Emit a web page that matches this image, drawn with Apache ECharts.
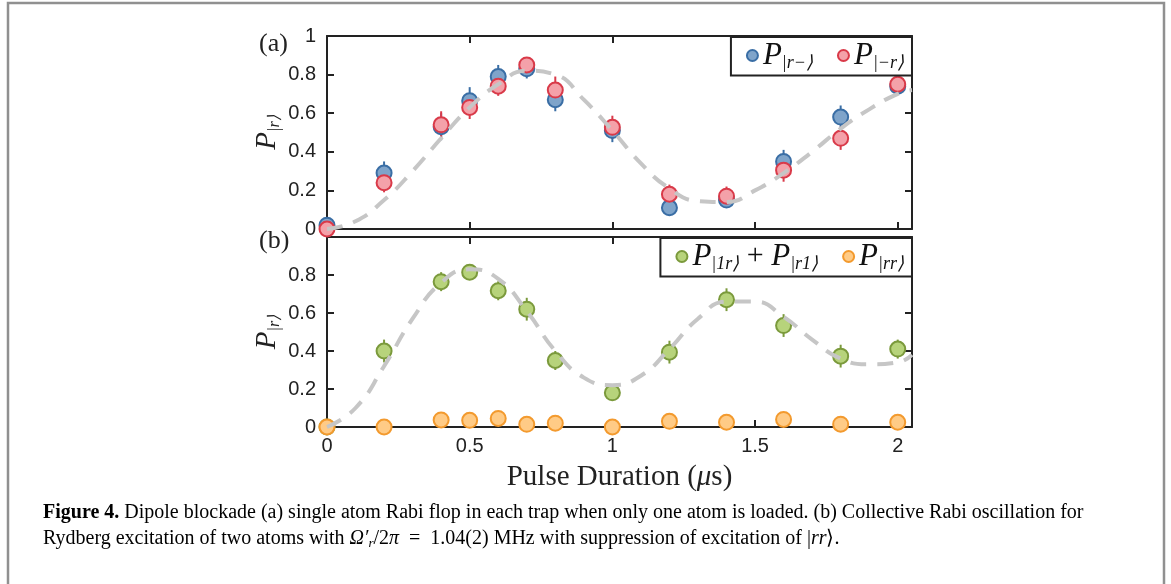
<!DOCTYPE html>
<html>
<head>
<meta charset="utf-8">
<script src="https://cdn.jsdelivr.net/npm/echarts@6/dist/echarts.min.js"></script>
<style>
  html, body { margin: 0; padding: 0; background: #fff; }
  #chart { width: 1171px; height: 584px; }
</style>
</head>
<body>
<div id="chart"></div>
<script>
// pulse durations (us)
var xVals = [0, 0.2, 0.4, 0.5, 0.6, 0.7, 0.8, 1.0, 1.2, 1.4, 1.6, 1.8, 2.0];

// (a) single atom
var blueVals = [0.02, 0.29, 0.53, 0.665, 0.79, 0.83, 0.67, 0.51, 0.11, 0.15, 0.35, 0.58, 0.74];
var blueErr = [0.02, 0.06, 0.07, 0.07, 0.06, 0.05, 0.06, 0.06, 0.04, 0.04, 0.06, 0.06, 0.04];
var redVals = [0.0, 0.24, 0.54, 0.63, 0.74, 0.85, 0.72, 0.527, 0.18, 0.17, 0.305, 0.47, 0.75];
var redErr = [0.02, 0.05, 0.07, 0.06, 0.05, 0.04, 0.07, 0.06, 0.05, 0.05, 0.06, 0.06, 0.04];

// (b) two atoms
var greenVals = [0.0, 0.40, 0.765, 0.815, 0.717, 0.62, 0.35, 0.18, 0.394, 0.67, 0.534, 0.373, 0.41];
var greenErr = [0.0, 0.06, 0.05, 0.04, 0.05, 0.06, 0.05, 0.04, 0.06, 0.06, 0.06, 0.06, 0.05];
var orangeVals = [0.0, 0.0, 0.037, 0.035, 0.045, 0.014, 0.02, 0.0, 0.03, 0.025, 0.04, 0.015, 0.025];

// fit curves
var fitX = [0, 0.1, 0.2, 0.3, 0.4, 0.5, 0.6, 0.7, 0.8, 0.9, 1.0, 1.1, 1.2, 1.3, 1.4, 1.5, 1.6, 1.7, 1.8, 1.9, 2.0, 2.05];
var fitA = [0, 0.04, 0.15, 0.30, 0.47, 0.63, 0.75, 0.82, 0.80, 0.67, 0.51, 0.34, 0.21, 0.145, 0.14, 0.20, 0.29, 0.40, 0.52, 0.62, 0.70, 0.72];
var fitB = [0, 0.10, 0.32, 0.57, 0.76, 0.83, 0.78, 0.61, 0.40, 0.26, 0.22, 0.27, 0.41, 0.57, 0.66, 0.66, 0.58, 0.46, 0.36, 0.33, 0.34, 0.38];

var xTicks = [0, 0.5, 1, 1.5, 2];
var yTicks = [0, 0.2, 0.4, 0.6, 0.8, 1];

function pairs(xs, ys) {
    return xs.map(function (x, i) { return [x, ys[i]]; });
}
function triples(xs, ys, es) {
    return xs.map(function (x, i) { return [x, ys[i], es[i]]; });
}

function errSeries(data, color, xi, yi) {
    return {
        type: 'custom',
        xAxisIndex: xi,
        yAxisIndex: yi,
        data: data,
        encode: { x: 0, y: 1 },
        silent: true,
        renderItem: function (params, api) {
            var x = api.value(0), y = api.value(1), e = api.value(2);
            var lo = api.coord([x, y - e]);
            var hi = api.coord([x, y + e]);
            return {
                type: 'line',
                shape: { x1: lo[0], y1: lo[1], x2: hi[0], y2: hi[1] },
                style: { stroke: color, lineWidth: 2 }
            };
        }
    };
}

function dotSeries(name, data, fill, stroke, xi, yi) {
    return {
        name: name,
        type: 'scatter',
        xAxisIndex: xi,
        yAxisIndex: yi,
        data: data,
        symbol: 'circle',
        symbolSize: 15,
        itemStyle: { color: fill, borderColor: stroke, borderWidth: 2, opacity: 1 }
    };
}

var axisLine = { show: true, onZero: false, lineStyle: { color: '#222', width: 2 } };
var axisTick = { show: true, inside: true, length: 7, lineStyle: { color: '#222', width: 2 } };
var tickFont = { fontFamily: 'Liberation Sans', fontSize: 20, color: '#222' };

function xAx(grid, pos, showLabel) {
    return {
        type: 'value', gridIndex: grid, position: pos,
        min: 0, max: 2.05, interval: 0.5,
        axisLine: axisLine, axisTick: axisTick, splitLine: { show: false },
        axisLabel: Object.assign({
            show: showLabel, margin: 9, showMaxLabel: false,
            formatter: function (v) { return xTicks.indexOf(v) >= 0 ? String(v) : ''; }
        }, tickFont)
    };
}
function yAx(grid, pos, showLabel, hideTop) {
    return {
        type: 'value', gridIndex: grid, position: pos,
        min: 0, max: 1, interval: 0.2,
        axisLine: axisLine, axisTick: axisTick, splitLine: { show: false },
        axisLabel: Object.assign({
            show: showLabel, margin: 11,
            formatter: function (v) {
                if (hideTop && v >= 1) return '';
                return yTicks.indexOf(v) >= 0 ? String(v) : '';
            }
        }, tickFont)
    };
}

var yName = '{p|P}{s||r⟩}';
var nameRich = {
    p: { fontFamily: 'Liberation Serif', fontStyle: 'italic', fontSize: 29, color: '#222' },
    s: { fontFamily: 'Liberation Serif', fontStyle: 'italic', fontSize: 16, color: '#222', padding: [15, 0, 0, 0] }
};

var yLeftA = yAx(0, 'left', true, false);
yLeftA.name = yName; yLeftA.nameLocation = 'middle'; yLeftA.nameGap = 44;
yLeftA.nameTextStyle = { rich: nameRich };
var yLeftB = yAx(1, 'left', true, true);
yLeftB.name = yName; yLeftB.nameLocation = 'middle'; yLeftB.nameGap = 44;
yLeftB.nameTextStyle = { rich: nameRich };

var xBottomB = xAx(1, 'bottom', true);
xBottomB.name = '{n|Pulse Duration (}{m|μ}{n|s)}';
xBottomB.nameLocation = 'middle';
xBottomB.nameGap = 36;
xBottomB.nameTextStyle = {
    rich: {
        n: { fontFamily: 'Liberation Serif', fontSize: 29, color: '#222' },
        m: { fontFamily: 'Liberation Serif', fontStyle: 'italic', fontSize: 29, color: '#222' }
    }
};

var legendNames = {
    'P_r-': '{p|P}{s||r−⟩}',
    'P_-r': '{p|P}{s||−r⟩}',
    'P_1r': '{p|P}{s||1r⟩}{o| + }{p|P}{s||r1⟩}',
    'P_rr': '{p|P}{s||rr⟩}'
};
var legendRich = {
    p: { fontFamily: 'Liberation Serif', fontStyle: 'italic', fontSize: 31, color: '#111' },
    s: { fontFamily: 'Liberation Serif', fontStyle: 'italic', fontSize: 18, color: '#111', padding: [16, 0, 0, 0] },
    o: { fontFamily: 'Liberation Serif', fontSize: 30, color: '#111' }
};
function legendBox(grid, top, names) {
    return {
        data: names,
        right: 259,
        top: top,
        orient: 'horizontal',
        itemWidth: 11,
        itemHeight: 11,
        itemGap: 24,
        padding: [3, 8, 3, 15],
        borderColor: '#222',
        borderWidth: 2,
        backgroundColor: '#fff',
        selectedMode: false,
        formatter: function (n) { return legendNames[n]; },
        textStyle: { rich: legendRich, padding: [0, 0, 0, 0] }
    };
}

var caption1 = '{b|Figure 4.}{n| Dipole blockade (a) single atom Rabi flop in each trap when only one atom is loaded. (b) Collective Rabi oscillation for}';
var caption2 = '{n|Rydberg excitation of two atoms with }{i|Ω′}{sub|r}{n|/2}{i|π}{n|  =  1.04(2) MHz with suppression of excitation of |}{i|rr}{n|⟩.}';
var capRich = {
    b: { fontFamily: 'Liberation Serif', fontWeight: 'bold', fontSize: 20, color: '#111' },
    n: { fontFamily: 'Liberation Serif', fontSize: 20, color: '#111' },
    i: { fontFamily: 'Liberation Serif', fontStyle: 'italic', fontSize: 20, color: '#111' },
    sub: { fontFamily: 'Liberation Serif', fontStyle: 'italic', fontSize: 13, color: '#111', padding: [9, 0, 0, 0] }
};

var myChart = echarts.init(document.getElementById('chart'));
myChart.setOption({
    animation: false,
    backgroundColor: '#fff',
    grid: [
        { left: 327, top: 36, width: 585, height: 193, outerBoundsMode: 'none' },
        { left: 327, top: 237, width: 585, height: 190, outerBoundsMode: 'none' }
    ],
    xAxis: [xAx(0, 'bottom', false), xAx(0, 'top', false), xBottomB, xAx(1, 'top', false)],
    yAxis: [yLeftA, yAx(0, 'right', false, false), yLeftB, yAx(1, 'right', false, false)],
    legend: [
        legendBox(0, 37, ['P_r-', 'P_-r']),
        legendBox(1, 238, ['P_1r', 'P_rr'])
    ],
    graphic: [
        {
            type: 'rect', silent: true,
            shape: { x: 8, y: 3, width: 1156, height: 600 },
            style: { fill: 'none', stroke: '#909090', lineWidth: 2.5 }
        },
        {
            type: 'text', left: 259, top: 31, silent: true,
            style: { text: '(a)', fontFamily: 'Liberation Serif', fontSize: 26, fill: '#222' }
        },
        {
            type: 'text', left: 259, top: 228, silent: true,
            style: { text: '(b)', fontFamily: 'Liberation Serif', fontSize: 26, fill: '#222' }
        },
        {
            type: 'text', left: 43, top: 503, silent: true,
            style: { text: caption1, rich: capRich }
        },
        {
            type: 'text', left: 43, top: 529, silent: true,
            style: { text: caption2, rich: capRich }
        }
    ],
    series: [
        {
            type: 'line', xAxisIndex: 0, yAxisIndex: 0,
            data: pairs(fitX, fitA), smooth: true, showSymbol: false, silent: true,
            lineStyle: { color: '#c6c6c6', width: 4, type: [16, 11] }
        },
        errSeries(triples(xVals, blueVals, blueErr), '#3a6ea5', 0, 0),
        dotSeries('P_r-', pairs(xVals, blueVals), '#7fa4ca', '#3a6ea5', 0, 0),
        errSeries(triples(xVals, redVals, redErr), '#d93a49', 0, 0),
        dotSeries('P_-r', pairs(xVals, redVals), '#f4a1a9', '#d93a49', 0, 0),
        {
            type: 'line', xAxisIndex: 2, yAxisIndex: 2,
            data: pairs(fitX, fitB), smooth: true, showSymbol: false, silent: true,
            lineStyle: { color: '#c6c6c6', width: 4, type: [16, 11] }
        },
        errSeries(triples(xVals, greenVals, greenErr), '#7b9a3c', 2, 2),
        dotSeries('P_1r', pairs(xVals, greenVals), '#b7d37b', '#7b9a3c', 2, 2),
        dotSeries('P_rr', pairs(xVals, orangeVals), '#ffcb86', '#f39a2e', 2, 2)
    ]
});
</script>
</body>
</html>
